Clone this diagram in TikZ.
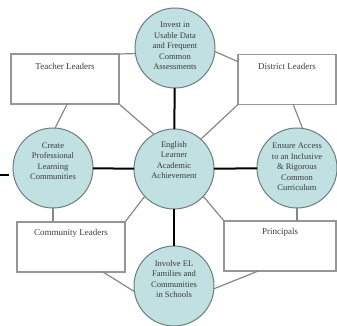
\documentclass[tikz,border=0pt]{standalone}
\usepackage{fontspec}
\setmainfont{Liberation Serif}
\definecolor{circfill}{RGB}{192,224,225}
\definecolor{circline}{RGB}{110,125,128}
\definecolor{boxline}{RGB}{150,150,150}
\definecolor{conn}{RGB}{135,135,135}
\definecolor{txt}{RGB}{60,60,60}
\begin{document}
\begin{tikzpicture}[x=1pt,y=-1pt,
  goal/.style={circle, draw=circline, line width=1pt, fill=circfill, minimum size=80pt, inner sep=0pt, outer sep=0pt},
  goaltext/.style={text=txt, font=\fontsize{8.5}{10.5}\selectfont, align=center, inner sep=0pt},
  leader/.style={draw=boxline, line width=1.2pt, fill=white, inner sep=0pt, outer sep=0pt, minimum height=50pt},
  leadertext/.style={text=txt, font=\fontsize{9}{11}\selectfont, inner sep=0pt},
  thinlink/.style={draw=conn, line width=1.2pt},
  thicklink/.style={draw=black, line width=2pt}]
\useasboundingbox (0,0) rectangle (337,326);
% stray dash at left edge
\coordinate (dashL) at (0,175);
\coordinate (dashR) at (9,175);
\draw[thicklink] (dashL) -- (dashR);
% leader boxes
\node[leader, minimum width=108pt] (TL) at (65,79) {};
\node[leader, minimum width=98pt] (DL) at (287,79.5) {};
\node[leader, minimum width=108pt] (CL) at (71,247) {};
\node[leader, minimum width=112pt] (PR) at (280,246) {};
\node[leadertext] (TLt) at (65,66) {Teacher Leaders};
\node[leadertext] (DLt) at (287,66) {District Leaders};
\node[leadertext] (CLt) at (71,233) {Community Leaders};
\node[leadertext] (PRt) at (280,232) {Principals};
% goal circles
\node[goal] (top) at (175,48) {};
\node[goal] (ctr) at (174,169) {};
\node[goal] (left) at (53,168) {};
\node[goal] (right) at (297,168) {};
\node[goal] (bot) at (174,286) {};
\node[goaltext] (toptxt) at (175,46) {Invest in\\Usable Data\\and Frequent\\Common\\Assessments};
\node[goaltext] (ctrtxt) at (174,160) {English\\Learner\\Academic\\Achievement};
\node[goaltext] (lefttxt) at (53,161) {Create\\Professional\\Learning\\Communities};
\node[goaltext] (righttxt) at (297,167) {Ensure Access\\to an Inclusive\\\& Rigorous\\Common\\Curriculum};
\node[goaltext] (bottxt) at (174,279) {Involve EL\\Families and\\Communities\\in Schools};
% thick links
\draw[thicklink] (top) -- (ctr);
\draw[thicklink] (ctr) -- (bot);
\draw[thicklink] (left) -- (ctr);
\draw[thicklink] (ctr) -- (right);
% thin links
\draw[thinlink] (TL.north east) -- (top.188);
\draw[thinlink] (TL.south east) -- (ctr.120);
\draw[thinlink] (TL.-85) -- (left.87);
\draw[thinlink] (DL.160) -- (top.-5);
\draw[thinlink] (DL.south west) -- (ctr.48);
\draw[thinlink] (DL.-76) -- (right.82);
\draw[thinlink] (left.south) -- (left.south |- CL.north);
\draw[thinlink] (CL.north east) -- (ctr.223);
\draw[thinlink] (CL.-38) -- (bot.188);
\draw[thinlink] (right.south) -- (right.south |- PR.north);
\draw[thinlink] (PR.north west) -- (ctr.-43);
\draw[thinlink] (PR.-131) -- (bot.-4);
\end{tikzpicture}
\end{document}
